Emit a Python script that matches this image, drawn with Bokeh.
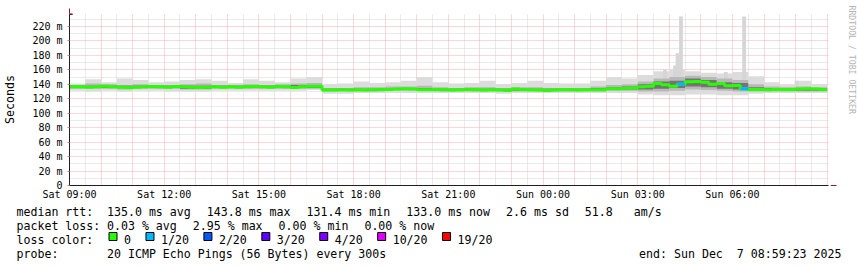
from bokeh.plotting import figure
from bokeh.layouts import column, row
from bokeh.models import Range1d, FixedTicker, Arrow, NormalHead, Title
from bokeh.core.properties import value
from bokeh.embed import file_html
from bokeh.resources import INLINE

# ---------------- data (hours since Sat 00:00, values in ms) ----------------
x_tick_hours = [9, 12, 15, 18, 21, 24, 27, 30]
x_tick_labels = ["Sat 09:00", "Sat 12:00", "Sat 15:00", "Sat 18:00",
                 "Sat 21:00", "Sun 00:00", "Sun 03:00", "Sun 06:00"]
y_tick_ms = [0, 20, 40, 60, 80, 100, 120, 140, 160, 180, 200, 220]
y_tick_labels = ["0", "20 m", "40 m", "60 m", "80 m", "100 m", "120 m",
                 "140 m", "160 m", "180 m", "200 m", "220 m"]

start_hour = 9.0
median_step_h = 0.25
smoke_step_h = 0.5

median_ms = [
    136.5, 136.5, 136.0, 136.5, 137.5, 136.5, 136.0, 135.5, 136.0, 136.5, 137.0, 136.5,
    136.0, 137.0, 136.5, 136.0, 135.5, 136.0, 136.5, 136.0, 136.5, 136.0, 136.5, 137.0,
    136.5, 136.0, 137.0, 136.5, 135.5, 136.5, 137.5, 137.5, 132.0, 132.0, 132.5, 132.0,
    132.5, 132.0, 132.5, 133.0, 133.0, 133.5, 134.0, 133.5, 132.5, 132.5, 133.0, 132.5,
    132.0, 132.5, 133.0, 132.5, 132.0, 132.5, 132.0, 131.5, 133.5, 133.0, 132.5, 132.0,
    131.5, 132.0, 132.5, 132.5, 132.0, 132.5, 132.5, 132.5, 134.0, 134.0, 134.5, 135.0,
    136.5, 137.5, 141.0, 139.5, 137.5, 140.0, 143.5, 143.8, 143.0, 140.0, 141.0, 138.0,
    138.5, 134.0, 133.0, 133.0, 132.5, 133.0, 133.0, 133.0, 133.5, 134.0, 133.5, 133.0,
]
loss_pings = [
    0, 0, 0, 0, 0, 0, 0, 0, 0, 0, 0, 0, 0, 0, 0, 0, 0, 0, 0, 0, 0, 0, 0, 0,
    0, 0, 0, 0, 0, 0, 0, 0, 0, 0, 0, 0, 0, 0, 0, 0, 0, 0, 0, 0, 0, 0, 0, 0,
    0, 0, 0, 0, 0, 0, 0, 0, 0, 0, 0, 0, 0, 0, 0, 0, 0, 0, 0, 0, 0, 0, 0, 0,
    0, 0, 0, 0, 0, 1, 0, 0, 0, 0, 0, 0, 0, 1, 0, 0, 0, 0, 0, 0, 0, 0, 0, 0,
]

smoke_min = [131, 130, 131, 130, 131, 131, 130, 130, 130, 131, 131, 131, 131, 131, 131, 132,
             127, 127, 128, 128, 128, 128, 128, 128, 128, 128, 128, 127, 128, 128, 128, 128,
             128, 128, 128, 128, 126, 125, 125, 126, 126, 125, 125, 127, 128, 128, 128, 128]
smoke_max = [141, 147, 143, 148, 146, 143, 144, 146, 147, 145, 142, 147, 145, 143, 148, 150,
             140, 141, 144, 142, 143, 145, 150, 143, 141, 142, 145, 140, 142, 145, 142, 141,
             141, 145, 150, 148, 153, 158, 160, 158, 156, 155, 157, 151, 143, 139, 145, 140]
smoke_mid_lo = [134, 134, 134, 133, 134, 134, 134, 133, 133, 134, 134, 134, 134, 134, 134, 134,
                130, 130, 130, 130, 131, 131, 131, 130, 130, 130, 130, 130, 130, 130, 130, 130,
                130, 130, 131, 131, 130, 130, 131, 133, 132, 131, 130, 130, 130, 130, 130, 130]
smoke_mid_hi = [139, 141, 140, 139, 140, 139, 139, 140, 141, 139, 139, 140, 139, 140, 141, 142,
                135, 135, 136, 136, 137, 137, 138, 136, 135, 136, 136, 135, 136, 136, 135, 135,
                135, 137, 139, 140, 144, 148, 150, 152, 150, 148, 146, 140, 137, 136, 137, 136]
smoke_in_lo = [135, 135, 135, 135, 135, 135, 135, 134, 134, 135, 135, 135, 135, 135, 135, 135,
               131, 131, 131, 131, 132, 132, 132, 131, 131, 131, 131, 131, 131, 131, 131, 131,
               131, 132, 132, 133, 133, 134, 135, 137, 136, 134, 133, 131, 131, 131, 131, 131]
smoke_in_hi = [138, 138, 138, 138, 138, 138, 138, 138, 138, 138, 138, 138, 138, 138, 139, 139,
               134, 134, 134, 134, 135, 135, 135, 134, 134, 134, 134, 134, 134, 134, 134, 134,
               134, 135, 136, 137, 140, 144, 145, 148, 146, 143, 142, 136, 135, 135, 135, 135]

spike_hours = [27.86, 28.18, 28.26, 28.37, 29.79, 30.37, 32.03]
spike_top_ms = [161, 166, 183, 234, 157, 234, 145]

loss_labels = ["0", "1/20", "2/20", "3/20", "4/20", "10/20", "19/20"]
loss_colors = ["#26ff00", "#00b8ff", "#0059ff", "#5e00ff", "#7e00ff", "#dd00ff", "#ff0000"]

stat_rtt = ["135.0 ms avg", "143.8 ms max", "131.4 ms min", "133.0 ms now", "2.6 ms sd", "51.8   am/s"]
stat_loss = ["0.03 % avg", "2.95 % max", "0.00 % min", "0.00 % now"]
probe_text = "20 ICMP Echo Pings (56 Bytes) every 300s"
end_text = "end: Sun Dec  7 08:59:23 2025"
watermark = "RRDTOOL / TOBI OETIKER"

# ---------------- main chart ----------------
FONT = "DejaVu Sans Mono"
W, H = 857, 267
PH = 204                            # main chart canvas height
FL, FR, FT, FB = 67, 828, 13, 185   # frame edges on the canvas

p = figure(width=W, height=PH, x_range=Range1d(9.0, 33.043), y_range=Range1d(0, 238),
           output_backend="svg", toolbar_location=None, title=None,
           min_border_left=FL, min_border_right=W - FR, min_border_top=FT,
           min_border_bottom=PH - FB)
p.outline_line_color = None
p.background_fill_color = "white"
p.border_fill_color = "white"

MGRID = "#f0b0b0"
GRID = "#d4d4d4"
p.xgrid.ticker = FixedTicker(ticks=list(range(9, 34)),
                             minor_ticks=[h + 0.5 for h in range(9, 33)])
p.ygrid.ticker = FixedTicker(ticks=y_tick_ms, minor_ticks=list(range(10, 240, 20)))
for g in (p.xgrid, p.ygrid):
    g.grid_line_color = MGRID
    g.grid_line_dash = "1 1"
    g.grid_line_width = 1
    g.minor_grid_line_color = GRID
    g.minor_grid_line_dash = "1 1"
    g.minor_grid_line_width = 1

p.xaxis.ticker = FixedTicker(ticks=x_tick_hours)
p.xaxis.major_label_overrides = dict(zip(x_tick_hours, x_tick_labels))
p.yaxis.ticker = FixedTicker(ticks=y_tick_ms)
p.yaxis.major_label_overrides = dict(zip(y_tick_ms, y_tick_labels))
for ax in (p.xaxis, p.yaxis):
    ax.axis_line_color = "#1f1f1f"
    ax.minor_tick_line_color = None
    ax.minor_tick_in = 0
    ax.minor_tick_out = 0
    ax.major_label_text_font = FONT
    ax.major_label_text_font_size = "10px"
    ax.major_label_text_color = "black"
p.xaxis.major_tick_line_color = None
p.xaxis.major_tick_in = 0
p.xaxis.major_tick_out = 0
p.xaxis.major_label_standoff = 3
p.yaxis.major_tick_in = 0
p.yaxis.major_tick_out = 2
p.yaxis.major_tick_line_color = "#d08080"
p.yaxis.major_label_standoff = 5
p.yaxis.axis_label = "Seconds"
p.yaxis.axis_label_text_font = FONT
p.yaxis.axis_label_text_font_size = "11.6px"
p.yaxis.axis_label_text_font_style = "normal"
p.yaxis.axis_label_text_color = "black"
p.yaxis.axis_label_standoff = 12

# watermark in the right border: a blank spacer title, then the watermark title
p.add_layout(Title(text=" ", text_font=FONT, text_font_size="12.5px", standoff=0), "right")
p.add_layout(Title(text=watermark, text_font=FONT, text_font_size="8.2px",
                   text_color="#b4b4b4", text_font_style="normal", align="left",
                   vertical_align="middle", offset=-8, standoff=0), "right")

# smoke
t_s = [start_hour + smoke_step_h * j for j in range(len(smoke_min))]
t_s_r = [t + smoke_step_h for t in t_s]
p.quad(left=t_s, right=t_s_r, bottom=smoke_min, top=smoke_max, fill_color="#dcdcdc", line_color=None)
sp_l = [h - 0.06 for h in spike_hours]
sp_r = [h + 0.06 for h in spike_hours]
p.quad(left=sp_l, right=sp_r, bottom=[138] * len(spike_hours), top=spike_top_ms,
       fill_color="#d6d6d6", line_color=None)
p.quad(left=t_s, right=t_s_r, bottom=smoke_mid_lo, top=smoke_mid_hi, fill_color="#b8b8b8", line_color=None)
p.quad(left=t_s, right=t_s_r, bottom=smoke_in_lo, top=smoke_in_hi, fill_color="#747474", line_color=None)

# median line
t_m = [start_hour + median_step_h * i for i in range(len(median_ms))]
xs = t_m + [t_m[-1] + median_step_h]
ys = median_ms + [median_ms[-1]]
p.step(xs, ys, mode="after", line_width=3, line_color=loss_colors[0])
lx0, lx1, ly = [], [], []
for t, m, l in zip(t_m, median_ms, loss_pings):
    if l > 0:
        lx0.append(t); lx1.append(t + median_step_h); ly.append(m)
p.segment(x0=lx0, x1=lx1, y0=ly, y1=ly, line_width=3, line_color=loss_colors[1])

# arrow heads at the axis ends
AR = "#801f1f"
p.add_layout(Arrow(end=NormalHead(size=6, fill_color=AR, line_color=AR, line_width=1),
                   x_start=FR - FL, y_start=0, x_end=FR - FL + 6, y_end=0,
                   start_units="screen", end_units="screen", line_color=AR, line_width=1))
p.add_layout(Arrow(end=NormalHead(size=6, fill_color=AR, line_color=AR, line_width=1),
                   x_start=0, y_start=FB - FT, x_end=0, y_end=FB - FT + 5,
                   start_units="screen", end_units="screen", line_color=AR, line_width=1))

# ---------------- legend block (canvas pixel coords) ----------------
q = figure(width=W, height=H - PH, x_range=Range1d(0, W), y_range=Range1d(H, PH),
           output_backend="svg", toolbar_location=None, x_axis_type=None, y_axis_type=None,
           title=None, min_border=0)
q.min_border_left = q.min_border_right = q.min_border_top = q.min_border_bottom = 0
q.outline_line_color = None
q.grid.visible = False

CW = 6.98   # char advance
GAP = 16.0
COL = 106.5
rows = [211, 225, 239, 253]

tx, ty, tt = [], [], []

def put_runs(x, y, s):
    # SVG collapses runs of spaces: place each space-separated run at its column
    i, n = 0, len(s)
    while i < n:
        if s[i] == " ":
            i += 1
            continue
        j = i
        while j < n and not (s[j] == " " and (j + 1 == n or s[j + 1] == " ")):
            j += 1
        tx.append(x + i * CW); ty.append(y); tt.append(s[i:j].strip())
        i = j

put_runs(16, rows[0], "median rtt:")
x = COL
for s in stat_rtt:
    put_runs(x, rows[0], s)
    x += len(s) * CW + GAP
put_runs(16, rows[1], "packet loss:")
x = COL
for s in stat_loss:
    put_runs(x, rows[1], s)
    x += len(s) * CW + GAP
put_runs(16, rows[2], "loss color:")
bl, br = [], []
bx = 108.5
for lab in loss_labels:
    bl.append(bx); br.append(bx + 8)
    put_runs(bx + 15, rows[2], lab)
    bx = bx + 15 + len(lab) * CW + 15
put_runs(16, rows[3], "probe:")
put_runs(COL, rows[3], probe_text)
put_runs(841 - len(end_text) * CW, rows[3], end_text)

q.text(x=tx, y=ty, text=tt, text_font=value(FONT), text_font_size="11.6px",
       text_color="black", text_align="left", text_baseline="alphabetic")
q.quad(left=bl, right=br, top=[232] * len(bl), bottom=[240] * len(bl),
       fill_color=loss_colors, line_color="black", line_width=1)

# wrap the chart in a row so the legend block is not frame-aligned with it
layout = column(row(p, spacing=0), q, spacing=0)
open("out.html", "w").write(file_html(layout, INLINE))
